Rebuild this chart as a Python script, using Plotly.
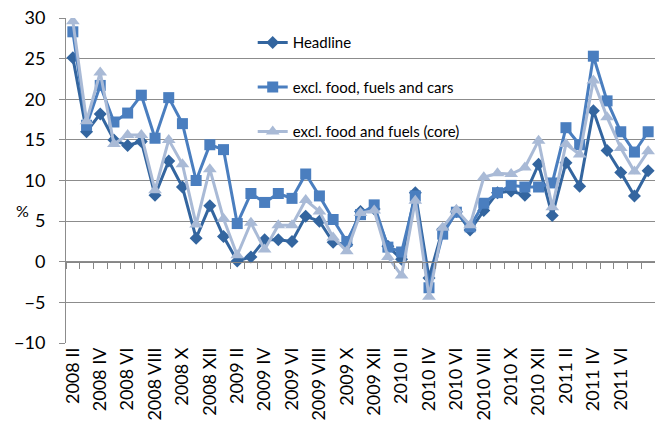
import plotly.graph_objects as go

# Monthly periods, February 2008 to August 2011
roman = ["I", "II", "III", "IV", "V", "VI", "VII", "VIII", "IX", "X", "XI", "XII"]
periods = [f"{y} {roman[m]}" for y in (2008, 2009, 2010, 2011) for m in range(12)]
periods = periods[1:periods.index("2011 VIII") + 1]

headline = [25.1, 16.0, 18.2, 15.0, 14.3, 14.8, 8.2, 12.4, 9.2, 2.9, 6.9, 3.1,
            0.1, 0.6, 2.7, 2.7, 2.5, 5.6, 5.0, 2.4, 2.1, 6.2, 6.5, 1.9,
            0.3, 8.5, -2.0, 4.0, 6.2, 3.9, 6.3, 8.5, 8.7, 8.2, 12.0, 5.7,
            12.2, 9.3, 18.6, 13.7, 11.0, 8.1, 11.2]
excl_cars = [28.3, 16.8, 21.7, 17.2, 18.3, 20.5, 15.2, 20.2, 17.0, 10.0, 14.4, 13.8,
             4.7, 8.4, 7.3, 8.4, 7.8, 10.8, 8.1, 5.2, 2.5, 5.8, 7.0, 1.8,
             1.2, 8.1, -3.2, 3.4, 6.1, 4.3, 7.2, 8.5, 9.4, 9.2, 9.2, 9.7,
             16.5, 14.4, 25.3, 19.8, 16.0, 13.5, 16.0]
core = [29.6, 17.3, 23.3, 14.5, 15.6, 15.6, 8.8, 15.0, 12.0, 4.6, 11.4, 5.3,
        0.8, 4.8, 1.5, 4.5, 4.5, 7.6, 6.2, 3.0, 1.3, 6.0, 6.3, 0.6,
        -1.7, 7.5, -4.3, 4.2, 6.4, 4.5, 10.4, 10.9, 10.8, 11.6, 14.9, 6.7,
        14.5, 13.2, 22.3, 17.8, 14.0, 11.1, 13.6]

label_every = 2
font = "Lato, 'Open Sans', sans-serif"
idx = list(range(len(periods)))

series = [
    ("Headline", headline, "#33659F", "diamond", 10, "x"),
    ("excl. food, fuels and cars", excl_cars, "#4A7EBF", "square", 11, "x"),
    ("excl. food and fuels (core)", core, "#A9BAD6", "triangle-up", 12, "x2"),
]

fig = go.Figure()
for name, vals, color, symbol, size, xa in series:
    fig.add_trace(go.Scatter(
        x=idx, y=vals, name=name, mode="lines+markers", xaxis=xa,
        line=dict(color=color, width=3),
        marker=dict(symbol=symbol, size=size, color=color),
        legendgroup=name,
    ))

# plot area in pixels, used to place the unit label
W, H = 657, 448
ML, MR, MT, MB = 66, 2, 18, 105

xrange = [-0.5, len(periods) - 0.5]
fig.update_layout(
    width=W, height=H,
    margin=dict(l=ML, r=MR, t=MT, b=MB),
    paper_bgcolor="white", plot_bgcolor="white",
    font=dict(family=font, color="#000000"),
    showlegend=True,
    legend=dict(x=0.317, y=0.975, xanchor="left", yanchor="top",
                font=dict(size=15, family=font), bgcolor="rgba(0,0,0,0)",
                traceorder="grouped", tracegroupgap=22),
    xaxis=dict(range=xrange, tickmode="array",
               tickvals=idx[::label_every], ticktext=periods[::label_every],
               tickangle=-90, tickfont=dict(size=18, family=font),
               showgrid=False, zeroline=False, showline=False, ticks=""),
    xaxis2=dict(range=xrange, matches="x", overlaying="x", anchor="free", position=0.25,
                tickmode="array", tickvals=[i + 0.5 for i in idx[:-1]] + [xrange[0]],
                ticks="outside", ticklen=6, tickcolor="#868686",
                showticklabels=False, showgrid=False, zeroline=False,
                showline=True, linecolor="#868686", linewidth=1),
    yaxis=dict(range=[-10, 30], dtick=5, tickfont=dict(size=18, family=font),
               showgrid=True, gridcolor="#8C8C8C", gridwidth=1,
               zeroline=False, showline=True, linecolor="#8C8C8C",
               ticks="outside", ticklen=6, tickcolor="#8C8C8C",
               ticklabelstandoff=10),
    annotations=[dict(text="%", xref="paper", yref="paper",
                      x=(22 - ML) / (W - ML - MR), y=1 - (210 - MT) / (H - MT - MB),
                      xanchor="center", yanchor="middle",
                      showarrow=False, font=dict(size=16, family=font))],
)

fig.write_html("out.html")
